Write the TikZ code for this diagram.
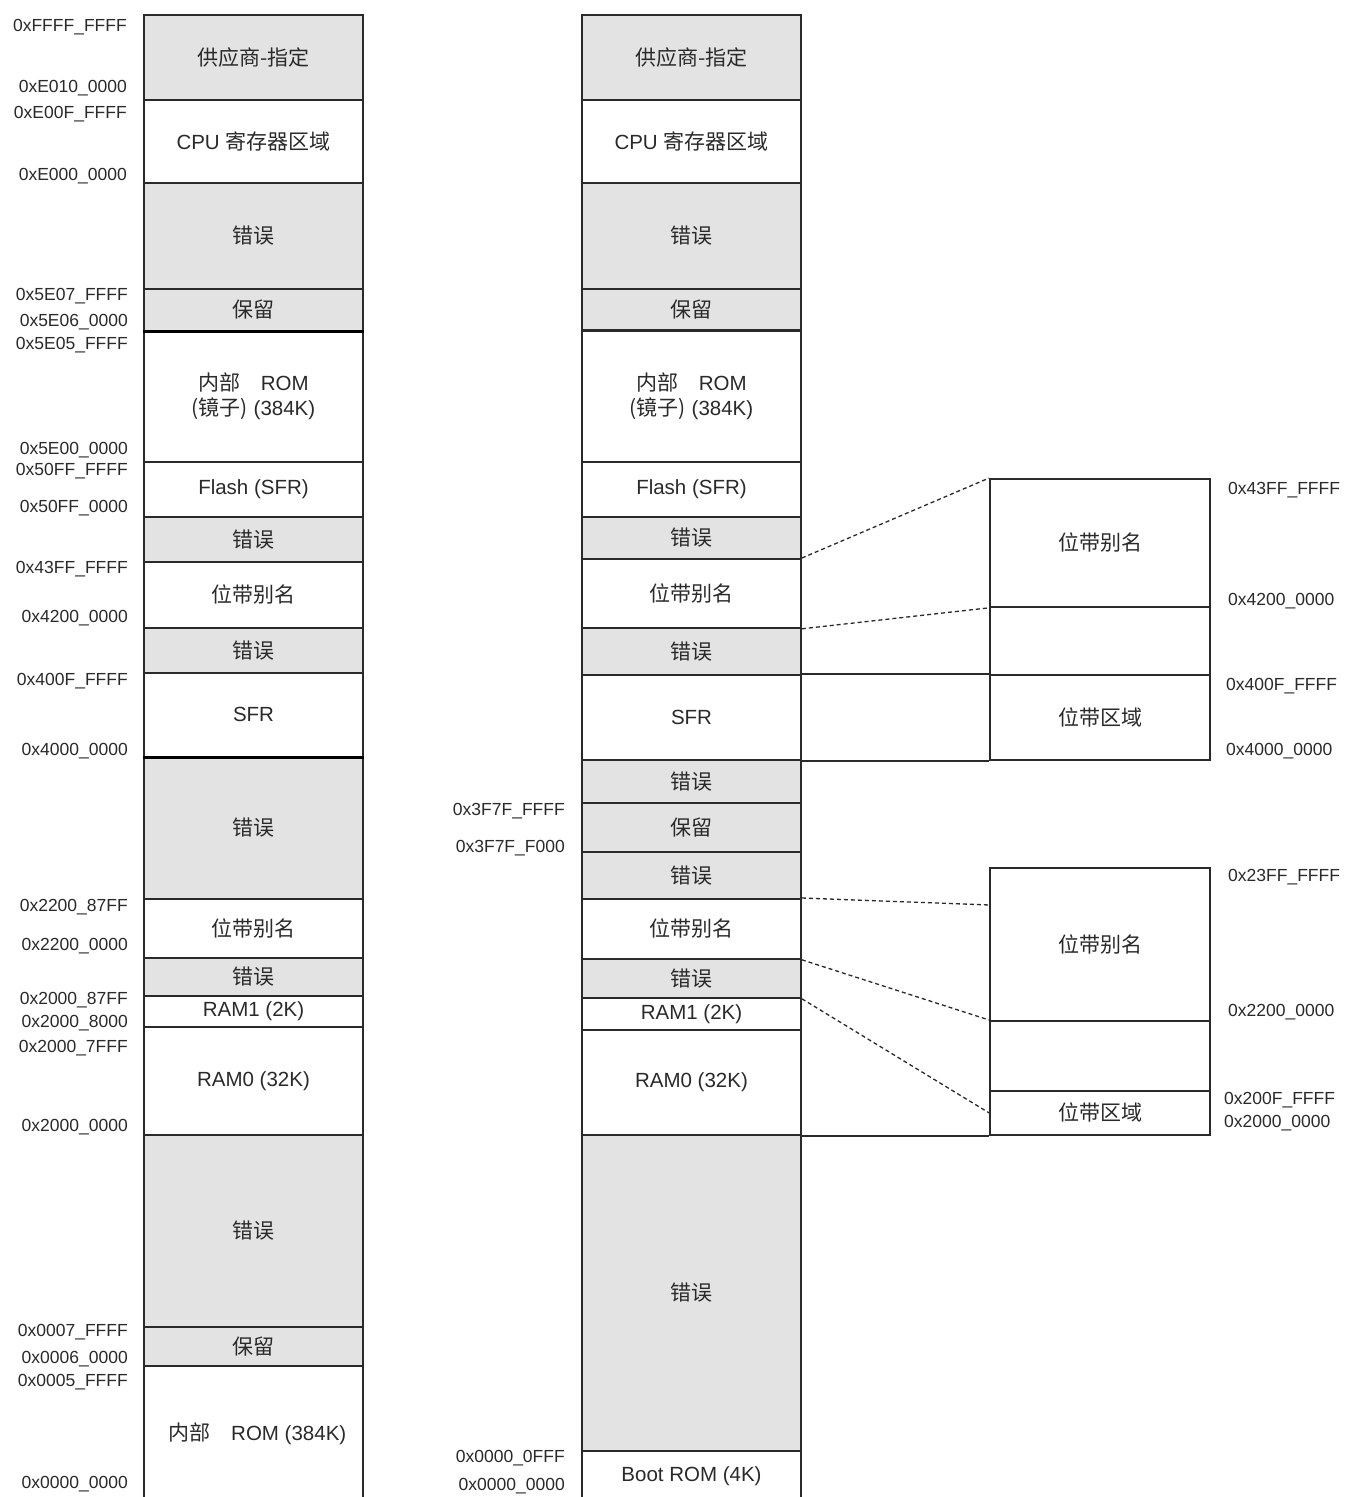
\documentclass[tikz,border=0pt]{standalone}
\usepackage{fontspec}
\setmainfont{Liberation Sans}
\newfontfamily\cjk{Noto Sans CJK SC}
\definecolor{fillg}{HTML}{E3E3E3}
\definecolor{edge}{HTML}{2A2A2A}
\definecolor{txt}{HTML}{2A2A2A}
\newcommand\C[1]{{\cjk\fontsize{21}{24}\selectfont #1}}
\newcommand\mreg[6]{\node[#5, minimum height={#4-#3}, anchor=north] (#1) at (#2,#3) {#6};}
\tikzset{
  reg/.style={draw=edge, line width=1.8pt, minimum width=219pt, inner sep=0pt,
    text=txt, font=\fontsize{20.5}{25}\selectfont, align=center},
  greg/.style={reg, fill=fillg},
  wreg/.style={reg, fill=white},
  breg/.style={reg, minimum width=220pt, fill=white},
  addrL/.style={font=\fontsize{17.5}{20}\selectfont, text=txt, inner sep=0pt, anchor=east},
  addrR/.style={font=\fontsize{17.5}{20}\selectfont, text=txt, inner sep=0pt, anchor=west},
  dline/.style={draw=edge, line width=1.3pt, dash pattern=on 4pt off 3pt},
  sline/.style={draw=edge, line width=1.8pt},
  thk/.style={draw=black, line width=3pt}
}
\begin{document}
\begin{tikzpicture}[x=1pt,y=-1pt]
\useasboundingbox[fill=white] (0,0) rectangle (1347,1497);
% ---------- left column ----------
\mreg{L1}{253.5}{14}{99}{greg}{\C{供应商-指定}}
\mreg{L2}{253.5}{99}{182}{wreg}{CPU \C{寄存器区域}}
\mreg{L3}{253.5}{182}{288}{greg}{\C{错误}}
\mreg{L4}{253.5}{288}{330}{greg}{\C{保留}}
\mreg{L5}{253.5}{330}{461}{wreg}{\C{内部}\quad ROM\\\C{(镜子)} (384K)}
\mreg{L6}{253.5}{461}{516}{wreg}{Flash (SFR)}
\mreg{L7}{253.5}{516}{561}{greg}{\C{错误}}
\mreg{L8}{253.5}{561}{627}{wreg}{\C{位带别名}}
\mreg{L9}{253.5}{627}{672}{greg}{\C{错误}}
\mreg{L10}{253.5}{672}{756}{wreg}{SFR}
\mreg{L11}{253.5}{756}{898}{greg}{\C{错误}}
\mreg{L12}{253.5}{898}{957}{wreg}{\C{位带别名}}
\mreg{L13}{253.5}{957}{995}{greg}{\C{错误}}
\mreg{L14}{253.5}{995}{1026}{wreg}{RAM1 (2K)}
\mreg{L15}{253.5}{1026}{1134}{wreg}{RAM0 (32K)}
\mreg{L16}{253.5}{1134}{1326}{greg}{\C{错误}}
\mreg{L17}{253.5}{1326}{1365}{greg}{\C{保留}}
\mreg{L18}{253.5}{1365}{1500}{wreg}{\hspace*{8pt}\C{内部}\quad ROM (384K)}
\draw[thk] (L4.south west) -- (L4.south east);
\draw[thk] (L10.south west) -- (L10.south east);
% ---------- right column ----------
\mreg{R1}{691.5}{14}{99}{greg}{\C{供应商-指定}}
\mreg{R2}{691.5}{99}{182}{wreg}{CPU \C{寄存器区域}}
\mreg{R3}{691.5}{182}{288}{greg}{\C{错误}}
\mreg{R4}{691.5}{288}{329}{greg}{\C{保留}}
\mreg{R5}{691.5}{329}{461}{wreg}{\C{内部}\quad ROM\\\C{(镜子)} (384K)}
\mreg{R6}{691.5}{461}{516}{wreg}{Flash (SFR)}
\mreg{R7}{691.5}{516}{558}{greg}{\C{错误}}
\mreg{R8}{691.5}{558}{627}{wreg}{\C{位带别名}}
\mreg{R9}{691.5}{627}{674}{greg}{\C{错误}}
\mreg{R10}{691.5}{674}{759}{wreg}{SFR}
\mreg{R11}{691.5}{759}{802}{greg}{\C{错误}}
\mreg{R12}{691.5}{802}{851}{greg}{\C{保留}}
\mreg{R13}{691.5}{851}{898}{greg}{\C{错误}}
\mreg{R14}{691.5}{898}{958}{wreg}{\C{位带别名}}
\mreg{R15}{691.5}{958}{997}{greg}{\C{错误}}
\mreg{R16}{691.5}{997}{1029}{wreg}{RAM1 (2K)}
\mreg{R17}{691.5}{1029}{1134}{wreg}{RAM0 (32K)}
\mreg{R18}{691.5}{1134}{1450}{greg}{\C{错误}}
\mreg{R19}{691.5}{1450}{1500}{wreg}{Boot ROM (4K)}
\draw[line width=2.4pt, draw=edge] (R4.south west) -- (R4.south east);
% ---------- bit-band boxes ----------
\mreg{B1}{1100}{478}{606}{breg}{\C{位带别名}}
\mreg{B2}{1100}{606}{674}{breg}{}
\mreg{B3}{1100}{674}{759}{breg}{\C{位带区域}}
\mreg{B4}{1100}{867}{1020}{breg}{\C{位带别名}}
\mreg{B5}{1100}{1020}{1090}{breg}{}
\mreg{B6}{1100}{1090}{1134}{breg}{\C{位带区域}}
\coordinate (d1) at (990,905);
% connectors
\draw[sline] (R10.north east) -- (B3.north west);
\draw[sline] (R10.south east) -- (B3.south west);
\draw[sline] (R17.south east) -- (B6.south west);
\draw[dline] (R8.north east) -- (B1.north west);
\draw[dline] (R8.south east) -- (B1.south west);
\draw[dline] (R14.north east) -- (d1);
\draw[dline] (R14.south east) -- (B5.north west);
\draw[dline] (R15.south east) -- (B6.west);
% ---------- left addresses ----------
\node[addrL] (a1) at (127,27) {0xFFFF\_FFFF};
\node[addrL] (a2) at (127,88) {0xE010\_0000};
\node[addrL] (a3) at (127,114) {0xE00F\_FFFF};
\node[addrL] (a4) at (127,176) {0xE000\_0000};
\node[addrL] (a5) at (128,296) {0x5E07\_FFFF};
\node[addrL] (a6) at (128,322) {0x5E06\_0000};
\node[addrL] (a7) at (128,345) {0x5E05\_FFFF};
\node[addrL] (a8) at (128,450) {0x5E00\_0000};
\node[addrL] (a9) at (128,471) {0x50FF\_FFFF};
\node[addrL] (a10) at (128,508) {0x50FF\_0000};
\node[addrL] (a11) at (128,569) {0x43FF\_FFFF};
\node[addrL] (a12) at (128,618) {0x4200\_0000};
\node[addrL] (a13) at (128,681) {0x400F\_FFFF};
\node[addrL] (a14) at (128,751) {0x4000\_0000};
\node[addrL] (a15) at (128,907) {0x2200\_87FF};
\node[addrL] (a16) at (128,946) {0x2200\_0000};
\node[addrL] (a17) at (128,1000) {0x2000\_87FF};
\node[addrL] (a18) at (128,1023) {0x2000\_8000};
\node[addrL] (a19) at (128,1048) {0x2000\_7FFF};
\node[addrL] (a20) at (128,1127) {0x2000\_0000};
\node[addrL] (a21) at (128,1332) {0x0007\_FFFF};
\node[addrL] (a22) at (128,1359) {0x0006\_0000};
\node[addrL] (a23) at (128,1382) {0x0005\_FFFF};
\node[addrL] (a24) at (128,1484) {0x0000\_0000};
% ---------- middle addresses ----------
\node[addrL] (m1) at (565,811) {0x3F7F\_FFFF};
\node[addrL] (m2) at (565,848) {0x3F7F\_F000};
\node[addrL] (m3) at (565,1458) {0x0000\_0FFF};
\node[addrL] (m4) at (565,1486) {0x0000\_0000};
% ---------- right addresses ----------
\node[addrR] (r1) at (1228,490) {0x43FF\_FFFF};
\node[addrR] (r2) at (1228,601) {0x4200\_0000};
\node[addrR] (r3) at (1226,686) {0x400F\_FFFF};
\node[addrR] (r4) at (1226,751) {0x4000\_0000};
\node[addrR] (r5) at (1228,877) {0x23FF\_FFFF};
\node[addrR] (r6) at (1228,1012) {0x2200\_0000};
\node[addrR] (r7) at (1224,1100) {0x200F\_FFFF};
\node[addrR] (r8) at (1224,1123) {0x2000\_0000};
\end{tikzpicture}
\end{document}
